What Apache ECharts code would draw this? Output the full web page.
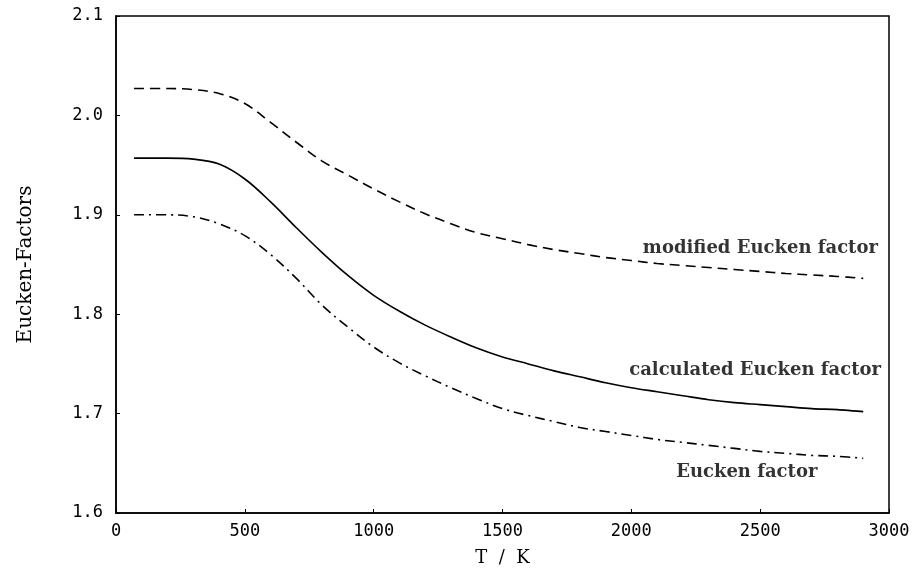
<!DOCTYPE html>
<html>
<head>
<meta charset="utf-8">
<script src="https://cdn.jsdelivr.net/npm/echarts@6/dist/echarts.min.js"></script>
<style>html,body{margin:0;padding:0;background:#fff}#c{width:914px;height:581px}</style>
</head>
<body>
<div id="c"></div>
<script>
const temps = [70,200,300,400,500,600,700,800,900,1000,1100,1200,1300,1400,1500,1600,1700,1800,1900,2000,2100,2200,2300,2400,2500,2600,2700,2800,2900];
const modifiedEucken = [2.027,2.027,2.026,2.022,2.012,1.993,1.973,1.954,1.940,1.926,1.913,1.901,1.891,1.882,1.876,1.870,1.865,1.861,1.857,1.854,1.851,1.849,1.847,1.845,1.843,1.841,1.8395,1.838,1.836];
const calculatedEucken = [1.957,1.957,1.956,1.951,1.936,1.913,1.887,1.862,1.839,1.819,1.803,1.789,1.777,1.766,1.757,1.750,1.743,1.737,1.731,1.726,1.722,1.718,1.714,1.711,1.709,1.707,1.705,1.704,1.702];
const euckenFactor = [1.900,1.900,1.898,1.891,1.879,1.860,1.836,1.809,1.787,1.767,1.751,1.738,1.726,1.715,1.705,1.698,1.692,1.686,1.682,1.678,1.674,1.671,1.668,1.665,1.662,1.660,1.658,1.657,1.655];
const curveLabels = ['modified Eucken factor','calculated Eucken factor','Eucken factor'];
const labelAnchors = [[2957,1.866],[2969,1.744],[2448,1.641]];
const labelAligns = ['right','right','center'];

function pairs(ys){ return temps.map((t,i)=>[t,ys[i]]); }
const labelFont = {fontFamily:'DejaVu Serif',fontSize:18,fontWeight:'bold',color:'#000'};
const chart = echarts.init(document.getElementById('c'));
chart.setOption({
  backgroundColor:'#fff',
  animation:false,
  grid:{left:116,right:25,top:16,bottom:68,show:true,borderColor:'#000',borderWidth:1.5,backgroundColor:'transparent'},
  xAxis:{type:'value',min:0,max:3000,interval:500,
    name:'T  /  K',nameLocation:'middle',nameGap:36,
    nameTextStyle:{fontFamily:'DejaVu Serif',fontSize:18,color:'#000'},
    axisLine:{show:true,lineStyle:{color:'#000',width:1.5}},
    axisTick:{show:true,inside:true,length:4,lineStyle:{color:'#000'}},
    axisLabel:{fontFamily:'DejaVu Sans Mono',fontSize:17,color:'#000',margin:10,formatter:v=>String(v)},
    splitLine:{show:false}},
  yAxis:{type:'value',min:1.6,max:2.1,interval:0.1,
    name:'Eucken-Factors',nameLocation:'middle',nameGap:80,
    nameTextStyle:{fontFamily:'DejaVu Serif',fontSize:20,color:'#000'},
    axisLine:{show:true,lineStyle:{color:'#000',width:1.5}},
    axisTick:{show:true,inside:true,length:4,lineStyle:{color:'#000'}},
    axisLabel:{fontFamily:'DejaVu Sans Mono',fontSize:17,color:'#000',margin:13,formatter:v=>v.toFixed(1)},
    splitLine:{show:false}},
  series:[
    {type:'line',data:pairs(modifiedEucken),smooth:0.35,showSymbol:false,
      lineStyle:{color:'#000',width:1.6,type:[10,6]}},
    {type:'line',data:pairs(calculatedEucken),smooth:0.35,showSymbol:false,
      lineStyle:{color:'#000',width:1.6,type:'solid'}},
    {type:'line',data:pairs(euckenFactor),smooth:0.35,showSymbol:false,
      lineStyle:{color:'#000',width:1.6,type:[10,5,2,5]}},
    {type:'scatter',silent:true,symbolSize:1,itemStyle:{color:'rgba(0,0,0,0)'},
      data:labelAnchors.map((c,i)=>({value:c,
        label:Object.assign({show:true,position:'inside',align:labelAligns[i],verticalAlign:'middle',formatter:curveLabels[i]},labelFont)}))}
  ]
});
</script>
</body>
</html>
